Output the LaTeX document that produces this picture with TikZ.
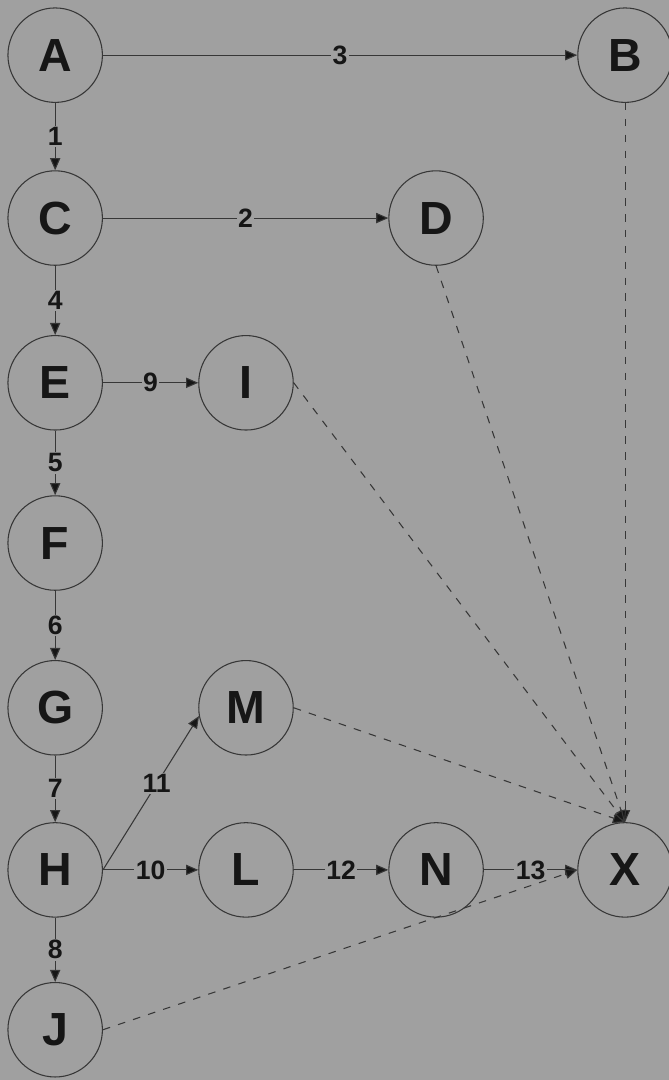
\documentclass[tikz,border=0pt]{standalone}
\usepackage{fontspec}
\setmainfont{Liberation Sans}
\usetikzlibrary{arrows.meta}

\definecolor{paper}{RGB}{160,160,160}
\definecolor{ink}{RGB}{22,22,22}
\definecolor{wire}{RGB}{55,55,55}

\begin{document}
\begin{tikzpicture}[
  state/.style={
    circle, draw=wire, fill=paper, line width=0.8pt, inner sep=0pt,
    minimum size=25mm, text=ink, font=\fontsize{35}{40}\selectfont\bfseries,
  },
  lbl/.style={
    fill=paper, inner sep=1pt, text=ink,
    font=\fontsize{20}{24}\selectfont\bfseries,
  },
  flow/.style={-{Triangle[length=3.2mm, width=2.7mm, fill=ink]}, draw=wire, line width=0.8pt},
  jump/.style={flow, dash pattern=on 2mm off 2.2mm},
]

% ---- Paper and fixed frame ------------------------------------------------
\fill[paper] (0mm, 0mm) rectangle (177mm, -285.8mm);
\useasboundingbox (0mm, 0mm) rectangle (177mm, -285.8mm);

% ---- Main column: the straight run down the left side ---------------------
\node[state] (A) at (14.6mm,  -14.6mm) {A};
\node[state] (C) at (14.6mm,  -57.7mm) {C};
\node[state] (E) at (14.6mm, -101.3mm) {E};
\node[state] (F) at (14.6mm, -143.7mm) {F};
\node[state] (G) at (14.6mm, -187.3mm) {G};
\node[state] (H) at (14.6mm, -230.2mm) {H};
\node[state] (J) at (14.6mm, -272.5mm) {J};

% ---- Side branches --------------------------------------------------------
\node[state] (B) at (165.4mm,  -14.6mm) {B};
\node[state] (D) at (115.4mm,  -57.7mm) {D};
\node[state] (I) at ( 65.1mm, -101.3mm) {I};
\node[state] (M) at ( 65.1mm, -187.3mm) {M};
\node[state] (L) at ( 65.1mm, -230.2mm) {L};
\node[state] (N) at (115.4mm, -230.2mm) {N};
\node[state] (X) at (165.4mm, -230.2mm) {X};

% ---- Numbered steps -------------------------------------------------------
\draw[flow] (A) -- node[lbl] {1} (C);
\draw[flow] (C) -- node[lbl] {4} (E);
\draw[flow] (E) -- node[lbl] {5} (F);
\draw[flow] (F) -- node[lbl] {6} (G);
\draw[flow] (G) -- node[lbl] {7} (H);
\draw[flow] (H) -- node[lbl] {8} (J);

\draw[flow] (A) -- node[lbl] {3} (B);
\draw[flow] (C) -- node[lbl] {2} (D);
\draw[flow] (E) -- node[lbl] {9} (I);
\draw[flow] (H.east) -- node[lbl, pos=0.56] {11} (M.190);
\draw[flow] (H) -- node[lbl] {10} (L);
\draw[flow] (L) -- node[lbl] {12} (N);
\draw[flow] (N) -- node[lbl] {13} (X);

% ---- Dashed jumps into X --------------------------------------------------
\draw[jump] (B.south) -- (X.north);
\draw[jump] (D.south) -- (X.north);
\draw[jump] (I.east)  -- (X.north);
\draw[jump] (M.east)  -- (X.north);
\draw[jump] (J.east)  -- (X.west);

\end{tikzpicture}
\end{document}
